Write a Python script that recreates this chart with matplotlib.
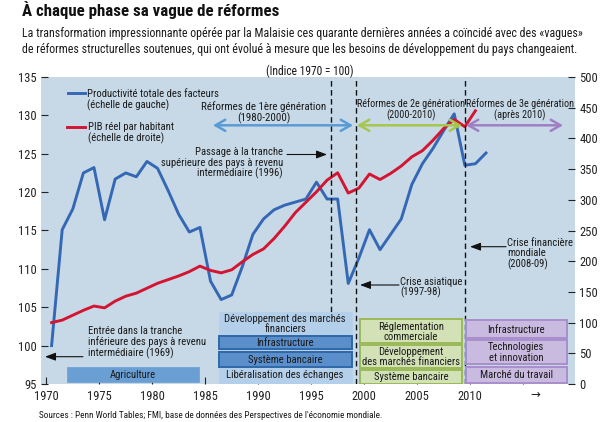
import matplotlib
matplotlib.use("Agg")
import matplotlib.pyplot as plt
import matplotlib.transforms as mtransforms
from matplotlib.patches import Rectangle, FancyArrowPatch
from matplotlib.lines import Line2D

plt.rcParams['font.family'] = ['Roboto Condensed', 'DejaVu Sans']

# Productivite totale des facteurs (indice 1970 = 100, echelle de gauche)
ptf_years = list(range(1970, 2012))
ptf = [100.0, 115.1, 117.8, 122.5, 123.2, 116.4, 121.7, 122.5, 122.0, 124.0,
       123.1, 120.2, 117.1, 114.8, 115.4, 108.4, 106.0, 106.6, 110.3, 114.5,
       116.5, 117.7, 118.3, 118.7, 119.1, 121.3, 119.1, 119.1, 108.1, 111.4,
       115.1, 112.5, 114.5, 116.5, 121.0, 123.7, 125.7, 128.0, 130.2, 123.5,
       123.7, 125.1]

# PIB reel par habitant (indice 1970 = 100, echelle de droite)
pib_years = list(range(1970, 2011))
pib = [100, 104, 112, 120, 127, 124, 135, 143, 148, 156,
       164, 170, 176, 183, 192, 185, 181, 186, 199, 211,
       220, 237, 257, 279, 296, 313, 332, 344, 311, 319,
       342, 333, 343, 355, 370, 380, 397, 416, 431, 419,
       445]

xticks = [1970, 1975, 1980, 1985, 1990, 1995, 2000, 2005, 2010, 2015]
xticklabels = ['1970', '1975', '1980', '1985', '1990', '1995', '2000', '2005', '2010', '']
left_ticks = list(range(95, 136, 5))
right_ticks = list(range(0, 501, 50))
events = [1996.85, 1999.2, 2009.55]

BG = '#c7d9e7'
BLUE = '#3568b4'
RED = '#d31532'
FS = 7.7

fig = plt.figure(figsize=(6, 4.22), dpi=100)
# reference pixel coordinates (origin top-left)
px = mtransforms.Affine2D().scale(1 / 600, -1 / 422).translate(0, 1) + fig.transFigure

ax = fig.add_axes([41 / 600, 1 - 384 / 422, 534 / 600, 307 / 422])
ax.set_facecolor(BG)
ax.plot([y + 0.5 for y in ptf_years], ptf, color=BLUE, lw=2.1)
ax.set_xlim(1969.5, 2019.9)
ax.set_ylim(95, 135)
ax.set_yticks(left_ticks)
ax.set_xticks(xticks)
ax.set_xticklabels(xticklabels)

ax2 = ax.twinx()
ax2.plot([y + 0.5 for y in pib_years], pib, color=RED, lw=2.1, zorder=3)
ax2.set_ylim(0, 500)
ax2.set_yticks(right_ticks)

for a in (ax, ax2):
    for s in a.spines.values():
        s.set_visible(False)
    a.tick_params(direction='in', length=5, width=0.8, labelsize=9, pad=3,
                  colors='#222222')
ax.tick_params(axis='x', pad=4)

for x in events:
    ax2.axvline(x, color='#111111', lw=1, ls=(0, (4, 2.5)), zorder=4)


def txt(x, y, s, size=FS, ha='center', va='center', **kw):
    ax2.text(x, y, s, transform=px, fontsize=size, ha=ha, va=va,
             color='#1a1a1a', linespacing=1.05, zorder=6, **kw)


def box(x0, x1, y0, y1, s, fc, ec, lw=1.4):
    ax2.add_patch(Rectangle((x0, y0), x1 - x0, y1 - y0, transform=px, fc=fc,
                            ec=ec, lw=lw, zorder=5))
    if s:
        txt((x0 + x1) / 2, (y0 + y1) / 2 + 0.5, s)


def arrow(p0, p1, color, style, lw, scale):
    ax2.add_patch(FancyArrowPatch(p0, p1, transform=px, arrowstyle=style,
                                  color=color, lw=lw, mutation_scale=scale,
                                  shrinkA=0, shrinkB=0, zorder=6))


# legende
ax2.add_line(Line2D([67.7, 85.3], [92.7, 92.7], transform=px, color=BLUE, lw=2.1, zorder=6))
ax2.add_line(Line2D([66.7, 84.7], [127, 127], transform=px, color=RED, lw=2.1, zorder=6))
txt(86.7, 99.7, 'Productivité totale des facteurs\n(échelle de gauche)', ha='left')
txt(87.7, 132.8, 'PIB réel par habitant\n(échelle de droite)', ha='left')

# vagues de reformes
txt(264, 113, 'Réformes de 1ère génération\n(1980-2000)', size=7.9)
txt(411, 109.7, 'Réformes de 2e génération\n(2000-2010)', size=7.3)
txt(520, 109.7, 'Réformes de 3e génération\n(après 2010)', size=7.3)
arrow((213, 125.3), (353, 125.3), '#5b9bd5', '<->,head_length=0.7,head_width=0.4', 1.8, 10)
arrow((357, 125.3), (462, 125.3), '#a6c64c', '<->,head_length=0.7,head_width=0.4', 1.8, 10)
arrow((466, 125.3), (563, 125.3), '#9f7fc4', '<->,head_length=0.7,head_width=0.4', 1.8, 10)

# evenements
txt(283, 163.3, 'Passage à la tranche\nsupérieure des pays à revenu\nintermédiaire (1996)', ha='right')
arrow((287, 154.5), (327, 154.5), '#111111', '-|>,head_length=0.8,head_width=0.3', 0.8, 8)
txt(400, 287.5, 'Crise asiatique\n(1997-98)', ha='left')
arrow((399, 285), (360, 285), '#111111', '-|>,head_length=0.8,head_width=0.3', 0.8, 8)
txt(507, 254, 'Crise financière\nmondiale\n(2008-09)', ha='left')
arrow((506, 246.7), (470, 246.7), '#111111', '-|>,head_length=0.8,head_width=0.3', 0.8, 8)
txt(88.3, 342.7, 'Entrée dans la tranche\ninférieure des pays à revenu\nintermédiaire (1969)', ha='left')
arrow((83, 356.7), (45, 356.7), '#111111', '-|>,head_length=0.8,head_width=0.3', 0.8, 8)

# blocs de reformes
box(66.7, 199, 366.7, 381.7, 'Agriculture', '#6a9fd4', '#6a9fd4', 0.5)
box(219, 351.5, 311.7, 383.5, '', '#b4cfea', '#b4cfea', 0.5)
txt(285, 324, 'Développement des marchés\nfinanciers')
box(219, 351.5, 335.7, 349.3, 'Infrastructure', '#5b8fcb', '#2f67a8')
box(219, 351.5, 351.7, 366.7, 'Système bancaire', '#5b8fcb', '#2f67a8')
txt(285, 374.8, 'Libéralisation des échanges')

GF, GE = '#d3e2b6', '#9aba58'
box(360, 462.3, 319.3, 343.3, 'Réglementation\ncommerciale', GF, GE)
box(360, 462.3, 345, 367.7, 'Développement\ndes marchés financiers', GF, GE)
box(360, 462.3, 370, 383.5, 'Système bancaire', GF, GE)

PF, PE = '#c9badf', '#a98ecd'
box(466, 566.7, 320, 338.3, 'Infrastructure', PF, PE)
box(466, 566.7, 340, 364, 'Technologies\net innovation', PF, PE)
box(466, 566.7, 366.7, 383.3, 'Marché du travail', PF, PE)

# textes
fig.text(22, 10, 'À chaque phase sa vague de réformes', transform=px, fontsize=12.2,
         fontweight='bold', ha='left', va='center', color='#111111')
fig.text(22, 33, 'La transformation impressionnante opérée par la Malaisie ces quarante '
         'dernières années a coïncidé avec des «vagues»', transform=px, fontsize=8.55,
         ha='left', va='center', color='#1a1a1a')
fig.text(22, 49, 'de réformes structurelles soutenues, qui ont évolué à mesure que les '
         'besoins de développement du pays changeaient.', transform=px, fontsize=8.55,
         ha='left', va='center', color='#1a1a1a')
fig.text(310, 71, '(Indice 1970 = 100)', transform=px, fontsize=8.3, ha='center',
         va='center', color='#1a1a1a')
fig.text(535, 394, '→', transform=px, fontsize=8.5, ha='center', va='center',
         color='#222222', family=['DejaVu Sans'])
fig.text(39.3, 416, 'Sources : Penn World Tables; FMI, base de données des Perspectives '
         'de l\'économie mondiale.', transform=px, fontsize=6.7, ha='left',
         va='center', color='#1a1a1a')

fig.savefig('out.png', dpi=100)
